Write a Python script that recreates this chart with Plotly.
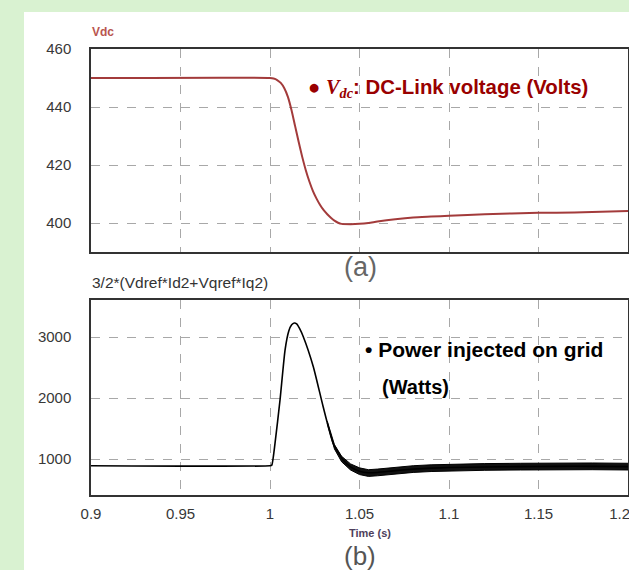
import plotly.graph_objects as go

W, H = 629, 570

# ---- data ----
vdc_t = [0.9, 1.0, 1.002, 1.004, 1.006, 1.008, 1.010, 1.012, 1.014, 1.016,
         1.018, 1.020, 1.022, 1.024, 1.026, 1.028, 1.030, 1.032, 1.034, 1.036,
         1.038, 1.040, 1.045, 1.05, 1.055, 1.06, 1.07, 1.08, 1.09, 1.1,
         1.12, 1.15, 1.17, 1.2]
vdc_v = [450, 450, 449.8, 449.3, 448.3, 446.5, 443.5, 439.0, 433.5, 428.0,
         422.8, 418.2, 414.3, 411.0, 408.4, 406.2, 404.4, 403.0, 401.8, 400.8,
         400.1, 399.7, 399.6, 399.7, 400.0, 400.5, 401.3, 401.9, 402.2, 402.5,
         403.0, 403.5, 403.6, 404.1]

pw_t = [0.9, 1.0, 1.001, 1.0028, 1.0056, 1.0084, 1.0105, 1.0121, 1.0135, 1.0149,
        1.0165, 1.0186, 1.0242, 1.0297, 1.0353, 1.0409, 1.045, 1.05, 1.055, 1.06,
        1.07, 1.08, 1.09, 1.1, 1.12, 1.14, 1.16, 1.18, 1.2]
pw_v = [890, 890, 900, 1257, 1967, 2787, 3100, 3200, 3230, 3215,
        3140, 3005, 2513, 1857, 1257, 984, 870, 800, 775, 780,
        810, 835, 850, 860, 870, 875, 880, 880, 875]

# ripple envelope of the power trace (upper / lower edges)
band_t = [1.032, 1.036, 1.04, 1.045, 1.05, 1.055, 1.06, 1.07, 1.08, 1.09,
          1.1, 1.12, 1.14, 1.16, 1.18, 1.2]
band_hi = [1620, 1235, 1045, 920, 855, 825, 835, 865, 890, 905,
           915, 925, 930, 935, 935, 930]
band_lo = [1580, 1165, 955, 820, 745, 715, 725, 755, 780, 795,
           805, 815, 820, 825, 825, 820]

x_ticks = [0.9, 0.95, 1.0, 1.05, 1.1, 1.15, 1.2]
x_labels = ["0.9", "0.95", "1", "1.05", "1.1", "1.15", "1.2&nbsp;&nbsp;&nbsp;&nbsp;"]
vdc_ticks = [400, 420, 440, 460]
pw_ticks = [1000, 2000, 3000]


def px(x):
    return x / W


def py(y):
    return 1 - y / H


fig = go.Figure()

fig.add_trace(go.Scatter(x=vdc_t, y=vdc_v, mode="lines",
                         line=dict(color="#a33b3b", width=2, shape="spline", smoothing=0.6),
                         xaxis="x", yaxis="y", showlegend=False))

fig.add_trace(go.Scatter(x=band_t, y=band_lo, mode="lines",
                         line=dict(color="#000000", width=1),
                         xaxis="x2", yaxis="y2", showlegend=False))
fig.add_trace(go.Scatter(x=band_t, y=band_hi, mode="lines", fill="tonexty",
                         fillcolor="#111111",
                         line=dict(color="#000000", width=1),
                         xaxis="x2", yaxis="y2", showlegend=False))
fig.add_trace(go.Scatter(x=pw_t, y=pw_v, mode="lines",
                         line=dict(color="#000000", width=1.6, shape="spline", smoothing=0.5),
                         xaxis="x2", yaxis="y2", showlegend=False))

tickfont = dict(family="Liberation Sans, Arial", size=15, color="#383838")
gridkw = dict(showgrid=True, gridcolor="#a8a8a8", griddash="dash", gridwidth=1,
              zeroline=False, automargin=False)
linekw = dict(showline=True, linecolor="#333333", linewidth=1.5, mirror=True)

xdom = [px(91), px(628)]
fig.update_layout(
    template="none",
    width=W, height=H,
    margin=dict(l=0, r=0, t=0, b=0, pad=0, autoexpand=False),
    paper_bgcolor="#d9f2d1",
    plot_bgcolor="#ffffff",
    xaxis=dict(domain=xdom, range=[0.9, 1.2], anchor="y",
               tickvals=x_ticks, showticklabels=False, ticks="",
               **linekw, **gridkw),
    yaxis=dict(domain=[py(252), py(49)], range=[390, 460], anchor="x",
               tickvals=vdc_ticks, tickfont=tickfont, ticks="",
               ticklabelstandoff=15, **linekw, **gridkw),
    xaxis2=dict(domain=xdom, range=[0.9, 1.2], anchor="y2",
                tickvals=x_ticks, ticktext=x_labels, tickfont=tickfont,
                ticks="", ticklabelstandoff=4, ticklabeloverflow="allow",
                **linekw, **gridkw),
    yaxis2=dict(domain=[py(495), py(300)], range=[410, 3607], anchor="x2",
                tickvals=pw_ticks, tickfont=tickfont, ticks="",
                ticklabelstandoff=15, **linekw, **gridkw),
)

# white panel
fig.add_shape(type="rect", xref="paper", yref="paper",
              x0=px(24), x1=1.0, y0=0.0, y1=py(12),
              fillcolor="#ffffff", line=dict(width=0), layer="below")


def ann(text, x, y, size, color, xanchor="left", bold=False, family="Liberation Sans, Arial"):
    fig.add_annotation(text=text, x=px(x), y=py(y), xref="paper", yref="paper",
                       xanchor=xanchor, yanchor="middle", showarrow=False,
                       font=dict(family=family, size=size, color=color,
                                 weight="bold" if bold else "normal"))


ann("Vdc", 90, 32, 12, "#b9564f", bold=True)
ann("3/2*(Vdref*Id2+Vqref*Iq2)", 90, 282, 15.5, "#333333")
ann("(a)", 360, 267, 27, "#666666", xanchor="center")
ann("(b)", 360, 556, 26, "#555555", xanchor="center")
ann("Time (s)", 370, 533, 11, "#4d3f5c", xanchor="center", bold=True)

ann("\u25cf <span style=\"font-family:'Liberation Serif';font-style:italic\">V</span>"
    "<sub><span style=\"font-family:'Liberation Serif';font-style:italic\">dc</span></sub>"
    ": DC-Link voltage (Volts)", 306, 88, 20.4, "#990000", bold=True)
ann("\u2022 Power injected on grid", 363, 349, 21, "#000000", bold=True)
ann("(Watts)", 380, 387, 20, "#000000", bold=True)

post = (
    "document.documentElement.style.margin='0';"
    "document.body.style.margin='0';"
    "document.body.style.overflow='hidden';"
)
fig.write_html("out.html", config={"displayModeBar": False}, post_script=post)
